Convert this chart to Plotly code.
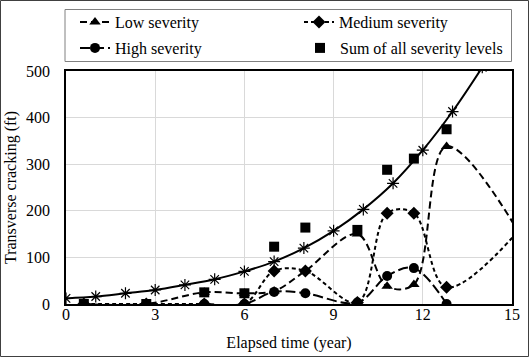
import plotly.graph_objects as go

# ---- data ----
years = [0.6, 2.7, 4.65, 6.0, 7.0, 8.05, 9.8, 10.8, 11.7, 12.8]
low_x = years + [16.0]
low_y = [0, 0, 25, 23, 28, 71, 150, 38, 42, 338, 70]
med_x = years + [16.0]
med_y = [0, 0, 0, 0, 71, 71, 3, 195, 195, 36, 215]
high_x = years[2:]
high_y = [0, 0, 26, 23, 3, 60, 77, 0]
sum_x = years
sum_y = [0, 0, 25, 23, 123, 164, 159, 288, 312, 375]
trend_x = list(range(0, 15))
trend_y = [12, 16, 23, 30, 41, 53, 70, 91, 120, 157, 203, 259, 330, 413, 508]

x_ticks = [0, 3, 6, 9, 12, 15]
y_ticks = [0, 100, 200, 300, 400, 500]

FONT = "Liberation Serif, Times New Roman, serif"

fig = go.Figure()
fig.add_trace(go.Scatter(
    x=low_x, y=low_y, name="Low severity", mode="lines+markers", legend="legend", legendwidth=179,
    line=dict(color="black", width=2, dash="7px,4px", shape="spline", smoothing=1),
    marker=dict(symbol="triangle-up", size=10, color="black")))
fig.add_trace(go.Scatter(
    x=med_x, y=med_y, name="Medium severity", mode="lines+markers", legend="legend", legendwidth=130,
    line=dict(color="black", width=2, dash="4px,3px", shape="spline", smoothing=1),
    marker=dict(symbol="diamond", size=10, color="black")))
fig.add_trace(go.Scatter(
    x=high_x, y=high_y, name="High severity", mode="lines+markers", legend="legend2", legendwidth=180,
    line=dict(color="black", width=2, dash="10px,4px", shape="spline", smoothing=1),
    marker=dict(symbol="circle", size=10, color="black")))
fig.add_trace(go.Scatter(
    x=sum_x, y=sum_y, name="Sum of all severity levels", mode="markers", legend="legend2", legendwidth=168,
    marker=dict(symbol="square", size=10, color="black")))
fig.add_trace(go.Scatter(
    x=trend_x, y=trend_y, name="Trend", mode="lines+markers", showlegend=False,
    line=dict(color="black", width=2, shape="spline", smoothing=1),
    marker=dict(symbol="asterisk-open", size=10, color="black", line=dict(color="black", width=1.2))))

W, H = 529, 357
L, R, T, B = 66, 17, 71, 53
pw, ph = W - L - R, H - T - B


def px_x(p):
    return (p - L) / pw


def px_y(p):
    return 1 + (T - p) / ph


leg_common = dict(
    orientation="h", xanchor="left", yanchor="middle",
    borderwidth=0, bgcolor="rgba(0,0,0,0)",
    font=dict(family=FONT, size=16, color="black"),
    itemwidth=30, tracegroupgap=0,
)

fig.update_layout(
    width=W, height=H,
    margin=dict(l=L, r=R, t=T, b=B, autoexpand=False),
    paper_bgcolor="white", plot_bgcolor="white",
    font=dict(family=FONT, size=16, color="black"),
    showlegend=True,
    legend=dict(x=px_x(75), y=px_y(22), **leg_common),
    legend2=dict(x=px_x(75), y=px_y(48), **leg_common),
    xaxis=dict(
        range=[0, 15], tickvals=x_ticks, ticktext=[str(v) for v in x_ticks],
        showgrid=True, gridcolor="#d9d9d9", gridwidth=1, zeroline=False,
        showline=True, linecolor="black", linewidth=1.5, mirror=True, automargin=False,
        ticks="", ticklabelstandoff=-5, tickfont=dict(family=FONT, size=16, color="black"),
        title=dict(text="Elapsed time (year)", font=dict(family=FONT, size=16, color="black"), standoff=15),
    ),
    yaxis=dict(
        range=[0, 500], tickvals=y_ticks, ticktext=[str(v) for v in y_ticks],
        showgrid=True, gridcolor="#d9d9d9", gridwidth=1, zeroline=False,
        showline=True, linecolor="black", linewidth=1.5, mirror=True, automargin=False,
        ticks="", ticklabelstandoff=11, tickfont=dict(family=FONT, size=16, color="black"),
        title=dict(text="Transverse cracking (ft)", font=dict(family=FONT, size=16, color="black"), standoff=5),
    ),
    shapes=[
        dict(type="rect", xref="paper", yref="paper",
             x0=px_x(0.5), x1=px_x(528.5), y0=px_y(356.5), y1=px_y(0.5),
             line=dict(color="#404040", width=1), fillcolor="rgba(0,0,0,0)", layer="above"),
        dict(type="rect", xref="paper", yref="paper",
             x0=px_x(65), x1=px_x(511.5), y0=px_y(61.5), y1=px_y(9.5),
             line=dict(color="#808080", width=1), fillcolor="rgba(0,0,0,0)", layer="below"),
    ],
)

fig.write_html("out.html", config={"displayModeBar": False},
               post_script="document.body.style.margin='0';")
